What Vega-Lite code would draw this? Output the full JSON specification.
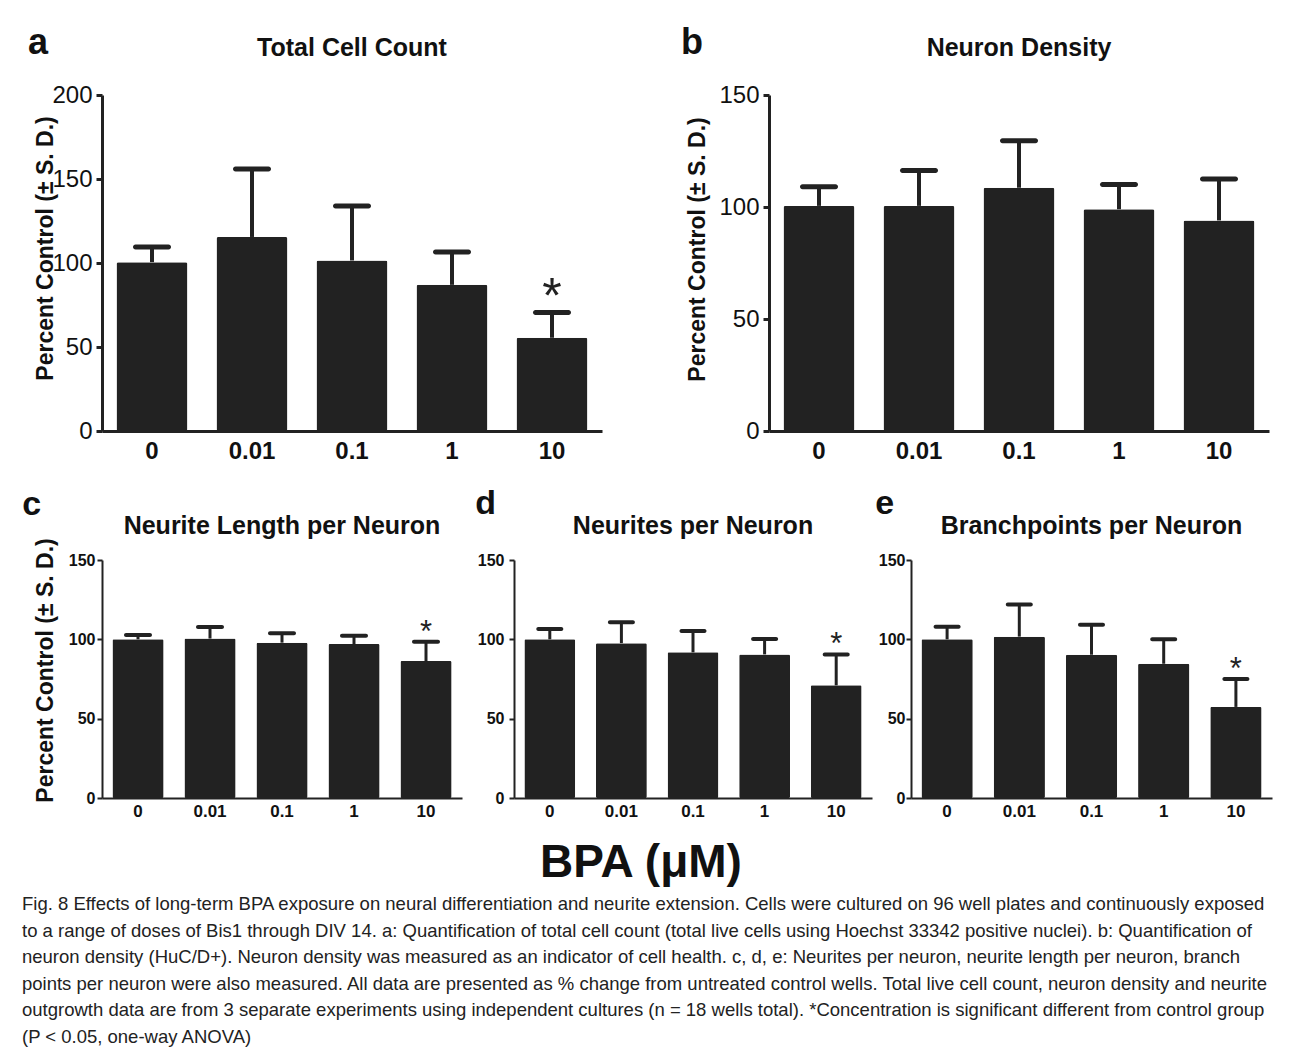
{
  "$schema": "https://vega.github.io/schema/vega-lite/v6.json",
  "background": "white",
  "padding": {"left": 22, "top": 25, "right": 5, "bottom": 5},
  "config": {
    "font": "Liberation Sans",
    "view": {"stroke": null},
    "axis": {"grid": false, "domainColor": "#222", "tickColor": "#222", "labelColor": "#111", "titleColor": "#111", "labelFont": "Liberation Sans", "titleFont": "Liberation Sans"},
    "title": {"color": "#111", "font": "Liberation Sans"},
    "tick": {"opacity": 1}
  },
  "datasets": {
    "a": [
      {"dose": "0", "mean": 100.5, "upper": 109.5, "sig": false},
      {"dose": "0.01", "mean": 115.5, "upper": 156, "sig": false},
      {"dose": "0.1", "mean": 101.5, "upper": 134, "sig": false},
      {"dose": "1", "mean": 87, "upper": 106.5, "sig": false},
      {"dose": "10", "mean": 55.5, "upper": 70.5, "sig": true}
    ],
    "b": [
      {"dose": "0", "mean": 100.5, "upper": 109, "sig": false},
      {"dose": "0.01", "mean": 100.5, "upper": 116.3, "sig": false},
      {"dose": "0.1", "mean": 108.6, "upper": 129.6, "sig": false},
      {"dose": "1", "mean": 99, "upper": 110, "sig": false},
      {"dose": "10", "mean": 94, "upper": 112.5, "sig": false}
    ],
    "c": [
      {"dose": "0", "mean": 100, "upper": 102.7, "sig": false},
      {"dose": "0.01", "mean": 100.5, "upper": 107.8, "sig": false},
      {"dose": "0.1", "mean": 97.9, "upper": 103.8, "sig": false},
      {"dose": "1", "mean": 97, "upper": 102.3, "sig": false},
      {"dose": "10", "mean": 86.3, "upper": 98.5, "sig": true}
    ],
    "d": [
      {"dose": "0", "mean": 100, "upper": 106.5, "sig": false},
      {"dose": "0.01", "mean": 97.6, "upper": 110.7, "sig": false},
      {"dose": "0.1", "mean": 91.8, "upper": 105.2, "sig": false},
      {"dose": "1", "mean": 90.5, "upper": 100.2, "sig": false},
      {"dose": "10", "mean": 71, "upper": 90.5, "sig": true}
    ],
    "e": [
      {"dose": "0", "mean": 100, "upper": 108, "sig": false},
      {"dose": "0.01", "mean": 101.7, "upper": 122, "sig": false},
      {"dose": "0.1", "mean": 90.3, "upper": 109.2, "sig": false},
      {"dose": "1", "mean": 84.6, "upper": 100, "sig": false},
      {"dose": "10", "mean": 57.4, "upper": 75, "sig": true}
    ],
    "caption": [
      {"line": 1, "text": "Fig. 8 Effects of long-term BPA exposure on neural differentiation and neurite extension. Cells were cultured on 96 well plates and continuously exposed"},
      {"line": 2, "text": "to a range of doses of Bis1 through DIV 14. a: Quantification of total cell count (total live cells using Hoechst 33342 positive nuclei). b: Quantification of"},
      {"line": 3, "text": "neuron density (HuC/D+). Neuron density was measured as an indicator of cell health. c, d, e: Neurites per neuron, neurite length per neuron, branch"},
      {"line": 4, "text": "points per neuron were also measured. All data are presented as % change from untreated control wells. Total live cell count, neuron density and neurite"},
      {"line": 5, "text": "outgrowth data are from 3 separate experiments using independent cultures (n = 18 wells total). *Concentration is significant different from control group"},
      {"line": 6, "text": "(P < 0.05, one-way ANOVA)"}
    ]
  },
  "vconcat": [
    {
      "vconcat": [
        {
          "hconcat": [
            {
              "title": {"text": "a", "anchor": "start", "frame": "bounds", "fontSize": 36, "fontWeight": "bold", "offset": -26, "dx": -7},
              "vconcat": [
                {
                  "width": 500, "height": 336,
                  "title": {"text": "Total Cell Count", "fontSize": 25, "fontWeight": "bold", "anchor": "middle", "frame": "group", "offset": 22},
                  "data": {"name": "a"},
                  "encoding": {
                    "x": {"field": "dose", "type": "nominal", "sort": null, "title": null,
                      "scale": {"paddingInner": 0.29, "paddingOuter": 0.145},
                      "axis": {"ticks": false, "domainWidth": 3, "labelAngle": 0, "labelFontSize": 24, "labelFontWeight": "bold", "labelPadding": 8}}
                  },
                  "layer": [
                    {"mark": {"type": "bar", "color": "#222", "cornerRadius": 2},
                     "encoding": {"y": {"field": "mean", "type": "quantitative", "title": "Percent Control (± S. D.)",
                       "scale": {"domain": [0, 200], "nice": false},
                       "axis": {"values": [0, 50, 100, 150, 200], "domainWidth": 3, "tickWidth": 3, "tickSize": 6, "labelFontSize": 24, "labelPadding": 4, "titleFontSize": 23, "titleFontWeight": "bold", "titlePadding": -6, "titleY": 153}}}},
                    {"mark": {"type": "rule", "color": "#222", "strokeWidth": 4},
                     "encoding": {"y": {"field": "mean", "type": "quantitative", "title": "Percent Control (± S. D.)"}, "y2": {"field": "upper"}}},
                    {"mark": {"type": "tick", "color": "#222", "opacity": 1, "thickness": 5, "size": 38, "cornerRadius": 2.5},
                     "encoding": {"y": {"field": "upper", "type": "quantitative", "title": "Percent Control (± S. D.)"}}},
                    {"transform": [{"filter": "datum.sig"}],
                     "mark": {"type": "text", "text": "*", "fontSize": 50, "baseline": "alphabetic", "color": "#222"},
                     "encoding": {"y": {"field": "upper", "type": "quantitative", "title": "Percent Control (± S. D.)"}}}
                  ]
                }
              ]
            },
            {
              "title": {"text": "b", "anchor": "start", "frame": "bounds", "fontSize": 36, "fontWeight": "bold", "offset": -26, "dx": -6},
              "vconcat": [
                {
                  "width": 500, "height": 336,
                  "title": {"text": "Neuron Density", "fontSize": 25, "fontWeight": "bold", "anchor": "middle", "frame": "group", "offset": 22},
                  "data": {"name": "b"},
                  "encoding": {
                    "x": {"field": "dose", "type": "nominal", "sort": null, "title": null,
                      "scale": {"paddingInner": 0.29, "paddingOuter": 0.145},
                      "axis": {"ticks": false, "domainWidth": 3, "labelAngle": 0, "labelFontSize": 24, "labelFontWeight": "bold", "labelPadding": 8}}
                  },
                  "layer": [
                    {"mark": {"type": "bar", "color": "#222", "cornerRadius": 2},
                     "encoding": {"y": {"field": "mean", "type": "quantitative", "title": "Percent Control (± S. D.)",
                       "scale": {"domain": [0, 150], "nice": false},
                       "axis": {"values": [0, 50, 100, 150], "domainWidth": 3, "tickWidth": 3, "tickSize": 6, "labelFontSize": 24, "labelPadding": 4, "titleFontSize": 23, "titleFontWeight": "bold", "titlePadding": 9, "titleY": 154}}}},
                    {"mark": {"type": "rule", "color": "#222", "strokeWidth": 4},
                     "encoding": {"y": {"field": "mean", "type": "quantitative", "title": "Percent Control (± S. D.)"}, "y2": {"field": "upper"}}},
                    {"mark": {"type": "tick", "color": "#222", "opacity": 1, "thickness": 5, "size": 38, "cornerRadius": 2.5},
                     "encoding": {"y": {"field": "upper", "type": "quantitative", "title": "Percent Control (± S. D.)"}}}
                  ]
                }
              ]
            }
          ],
          "spacing": 78
        },
        {
          "hconcat": [
            {
              "title": {"text": "c", "anchor": "start", "frame": "bounds", "fontSize": 34, "fontWeight": "bold", "offset": -8, "dx": -12},
              "vconcat": [
                {
                  "width": 360, "height": 238,
                  "title": {"text": "Neurite Length per Neuron", "fontSize": 25, "fontWeight": "bold", "anchor": "middle", "frame": "group", "offset": -1},
                  "data": {"name": "c"},
                  "encoding": {
                    "x": {"field": "dose", "type": "nominal", "sort": null, "title": null,
                      "scale": {"paddingInner": 0.29, "paddingOuter": 0.145},
                      "axis": {"ticks": false, "domainWidth": 2, "labelAngle": 0, "labelFontSize": 17, "labelFontWeight": "bold", "labelPadding": 5}}
                  },
                  "layer": [
                    {"mark": {"type": "bar", "color": "#222", "cornerRadius": 1.5},
                     "encoding": {"y": {"field": "mean", "type": "quantitative", "title": "Percent Control (± S. D.)",
                       "scale": {"domain": [0, 150], "nice": false},
                       "axis": {"values": [0, 50, 100, 150], "domainWidth": 2, "tickWidth": 2, "tickSize": 5, "labelFontSize": 16, "labelFontWeight": "bold", "labelPadding": 2, "titleFontSize": 23, "titleFontWeight": "bold", "titlePadding": 11, "titleY": 110}}}},
                    {"mark": {"type": "rule", "color": "#222", "strokeWidth": 3},
                     "encoding": {"y": {"field": "mean", "type": "quantitative", "title": "Percent Control (± S. D.)"}, "y2": {"field": "upper"}}},
                    {"mark": {"type": "tick", "color": "#222", "opacity": 1, "thickness": 4, "size": 28, "cornerRadius": 2},
                     "encoding": {"y": {"field": "upper", "type": "quantitative", "title": "Percent Control (± S. D.)"}}},
                    {"transform": [{"filter": "datum.sig"}],
                     "mark": {"type": "text", "text": "*", "fontSize": 31, "baseline": "alphabetic", "color": "#222"},
                     "encoding": {"y": {"field": "upper", "type": "quantitative", "title": "Percent Control (± S. D.)"}}}
                  ]
                }
              ]
            },
            {
              "hconcat": [
                {
                  "title": {"text": "d", "anchor": "start", "frame": "bounds", "fontSize": 34, "fontWeight": "bold", "offset": -7, "dx": -2},
                  "vconcat": [
                    {
                      "width": 358, "height": 238,
                      "title": {"text": "Neurites per Neuron", "fontSize": 25, "fontWeight": "bold", "anchor": "middle", "frame": "group", "offset": 13},
                      "data": {"name": "d"},
                      "encoding": {
                        "x": {"field": "dose", "type": "nominal", "sort": null, "title": null,
                          "scale": {"paddingInner": 0.29, "paddingOuter": 0.145},
                          "axis": {"ticks": false, "domainWidth": 2, "labelAngle": 0, "labelFontSize": 17, "labelFontWeight": "bold", "labelPadding": 5}}
                      },
                      "layer": [
                        {"mark": {"type": "bar", "color": "#222", "cornerRadius": 1.5},
                         "encoding": {"y": {"field": "mean", "type": "quantitative", "title": null,
                           "scale": {"domain": [0, 150], "nice": false},
                           "axis": {"values": [0, 50, 100, 150], "domainWidth": 2, "tickWidth": 2, "tickSize": 5, "labelFontSize": 16, "labelFontWeight": "bold", "labelPadding": 5}}}},
                        {"mark": {"type": "rule", "color": "#222", "strokeWidth": 3},
                         "encoding": {"y": {"field": "mean", "type": "quantitative", "title": null}, "y2": {"field": "upper"}}},
                        {"mark": {"type": "tick", "color": "#222", "opacity": 1, "thickness": 4, "size": 27, "cornerRadius": 2},
                         "encoding": {"y": {"field": "upper", "type": "quantitative", "title": null}}},
                        {"transform": [{"filter": "datum.sig"}],
                         "mark": {"type": "text", "text": "*", "fontSize": 31, "baseline": "alphabetic", "color": "#222"},
                         "encoding": {"y": {"field": "upper", "type": "quantitative", "title": null}}}
                      ]
                    }
                  ]
                },
                {
                  "title": {"text": "e", "anchor": "start", "frame": "bounds", "fontSize": 34, "fontWeight": "bold", "offset": -7, "dx": -3},
                  "vconcat": [
                    {
                      "width": 361, "height": 238,
                      "title": {"text": "Branchpoints per Neuron", "fontSize": 25, "fontWeight": "bold", "anchor": "middle", "frame": "group", "offset": 13},
                      "data": {"name": "e"},
                      "encoding": {
                        "x": {"field": "dose", "type": "nominal", "sort": null, "title": null,
                          "scale": {"paddingInner": 0.29, "paddingOuter": 0.145},
                          "axis": {"ticks": false, "domainWidth": 2, "labelAngle": 0, "labelFontSize": 17, "labelFontWeight": "bold", "labelPadding": 5}}
                      },
                      "layer": [
                        {"mark": {"type": "bar", "color": "#222", "cornerRadius": 1.5},
                         "encoding": {"y": {"field": "mean", "type": "quantitative", "title": null,
                           "scale": {"domain": [0, 150], "nice": false},
                           "axis": {"values": [0, 50, 100, 150], "domainWidth": 2, "tickWidth": 2, "tickSize": 5, "labelFontSize": 16, "labelFontWeight": "bold", "labelPadding": 1}}}},
                        {"mark": {"type": "rule", "color": "#222", "strokeWidth": 3},
                         "encoding": {"y": {"field": "mean", "type": "quantitative", "title": null}, "y2": {"field": "upper"}}},
                        {"mark": {"type": "tick", "color": "#222", "opacity": 1, "thickness": 4, "size": 27, "cornerRadius": 2},
                         "encoding": {"y": {"field": "upper", "type": "quantitative", "title": null}}},
                        {"transform": [{"filter": "datum.sig"}],
                         "mark": {"type": "text", "text": "*", "fontSize": 31, "baseline": "alphabetic", "color": "#222"},
                         "encoding": {"y": {"field": "upper", "type": "quantitative", "title": null}}}
                      ]
                    }
                  ]
                }
              ],
              "spacing": 3
            }
          ],
          "spacing": 13
        }
      ],
      "spacing": 24
    },
    {
      "width": 1078, "height": 159,
      "title": {"text": "BPA (μM)", "fontSize": 46, "fontWeight": "bold", "anchor": "middle", "frame": "group", "offset": 4},
      "data": {"name": "caption"},
      "mark": {"type": "text", "align": "left", "baseline": "middle", "fontSize": 18.5, "color": "#222", "font": "Liberation Sans", "dx": -80},
      "encoding": {
        "x": {"datum": 0, "type": "quantitative", "scale": {"domain": [0, 1]}, "axis": null},
        "y": {"field": "line", "type": "ordinal", "axis": null, "scale": {"paddingInner": 0, "paddingOuter": 0}},
        "text": {"field": "text"}
      }
    }
  ],
  "spacing": 21
}
